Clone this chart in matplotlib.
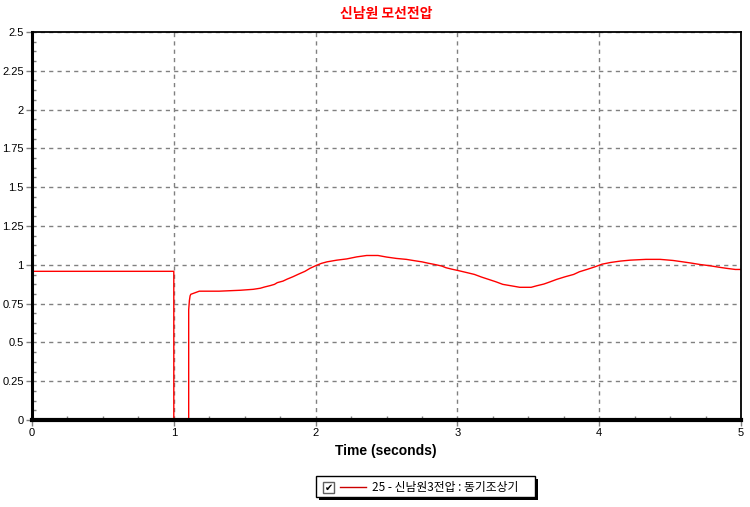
import matplotlib
matplotlib.use("Agg")
import matplotlib.pyplot as plt
from matplotlib.patches import Rectangle
from matplotlib.ticker import MultipleLocator, FormatStrFormatter

plt.rcParams['font.family'] = ['Liberation Sans', 'Noto Sans CJK KR', 'DejaVu Sans']

# %% data (time in s, voltage in pu)
time = [0.0, 1.0, 1.0, 1.105, 1.105, 1.11, 1.115, 1.12, 1.15, 1.18, 1.32,
        1.47, 1.56, 1.61, 1.64, 1.68, 1.71, 1.73, 1.77, 1.80, 1.84, 1.88,
        1.925, 1.96, 2.0, 2.04, 2.08, 2.15, 2.22, 2.29, 2.36, 2.44, 2.50,
        2.57, 2.64, 2.70, 2.75, 2.79, 2.84, 2.89, 2.92, 2.96, 3.01, 3.07,
        3.12, 3.17, 3.22, 3.27, 3.32, 3.39, 3.44, 3.52, 3.56, 3.61, 3.65,
        3.70, 3.76, 3.82, 3.86, 3.92, 3.97, 4.02, 4.08, 4.15, 4.22, 4.33,
        4.43, 4.52, 4.59, 4.65, 4.71, 4.78, 4.84, 4.90, 4.96, 5.0]
voltage = [0.958, 0.958, 0.0, 0.0, 0.71, 0.77, 0.80, 0.81, 0.82, 0.83, 0.83,
           0.836, 0.842, 0.849, 0.857, 0.866, 0.874, 0.885, 0.895, 0.908, 0.923, 0.94,
           0.958, 0.977, 0.994, 1.009, 1.019, 1.03, 1.038, 1.051, 1.06, 1.06, 1.05,
           1.041, 1.035, 1.026, 1.019, 1.011, 1.002, 0.992, 0.981, 0.972, 0.962, 0.949,
           0.938, 0.921, 0.906, 0.891, 0.874, 0.863, 0.855, 0.855, 0.865, 0.876, 0.889,
           0.906, 0.923, 0.938, 0.955, 0.972, 0.987, 1.004, 1.015, 1.024, 1.03, 1.035,
           1.035, 1.028, 1.019, 1.011, 1.002, 0.994, 0.985, 0.977, 0.97, 0.97]

title = "신남원 모선전압"
series_label = "25 - 신남원3전압 : 동기조상기"
xlabel = "Time (seconds)"

# %% figure
fig = plt.figure(figsize=(7.5, 5.07), dpi=100)
ax = fig.add_axes([32 / 750, 1 - 420 / 507, 709 / 750, 388 / 507])

ax.plot(time, voltage, color="#ff0000", linewidth=1.0)

ax.set_xlim(0, 5)
ax.set_ylim(0, 2.5)
ax.xaxis.set_major_locator(MultipleLocator(1))
ax.xaxis.set_minor_locator(MultipleLocator(0.25))
ax.yaxis.set_major_locator(MultipleLocator(0.25))
ax.yaxis.set_minor_locator(MultipleLocator(0.0625))
ax.xaxis.set_major_formatter(FormatStrFormatter("%g"))
ax.yaxis.set_major_formatter(FormatStrFormatter("%g"))
ax.grid(True, which="major", linestyle=(0, (3, 3)), color="#808080", linewidth=1)
ax.tick_params(which="major", length=4, width=1, labelsize=8, pad=2, color="#808080")
ax.tick_params(which="minor", length=3, width=1, color="#808080", direction="in")

for side in ("top", "right"):
    ax.spines[side].set_linewidth(1.3)
ax.spines["left"].set_linewidth(2.2)
ax.spines["bottom"].set_linewidth(3)

fig.text(0.515, 1 - 14 / 507, title, color="#ff0000", fontsize=10, fontweight="bold",
         ha="center", va="center", family=["Noto Sans CJK KR", "DejaVu Sans"])
fig.text(0.515, 1 - 451 / 507, xlabel, fontsize=10, fontweight="bold",
         ha="center", va="center")

# legend box with shadow and checkbox
bx, by, bw, bh = 316 / 750, 1 - 497 / 507, 219 / 750, 21 / 507
fig.add_artist(Rectangle((bx + 3 / 750, by - 3 / 507), bw, bh, transform=fig.transFigure,
                         facecolor="black", edgecolor="none"))
fig.add_artist(Rectangle((bx, by), bw, bh, transform=fig.transFigure,
                         facecolor="white", edgecolor="black", linewidth=1))
fig.add_artist(Rectangle((323 / 750, 1 - 493 / 507), 11 / 750, 11 / 507,
                         transform=fig.transFigure, facecolor="white",
                         edgecolor="#606060", linewidth=1))
fig.text(328.5 / 750, 1 - 487.5 / 507, "✔", fontsize=7, ha="center", va="center",
         family=["DejaVu Sans"])
fig.add_artist(plt.Line2D([340 / 750, 366 / 750], [1 - 487 / 507] * 2,
                          transform=fig.transFigure, color="#cc0000", linewidth=1))
fig.text(372 / 750, 1 - 487 / 507, series_label, fontsize=8.5, ha="left", va="center",
         family=["Noto Sans CJK KR", "DejaVu Sans"])

fig.savefig("out.png", dpi=100)
